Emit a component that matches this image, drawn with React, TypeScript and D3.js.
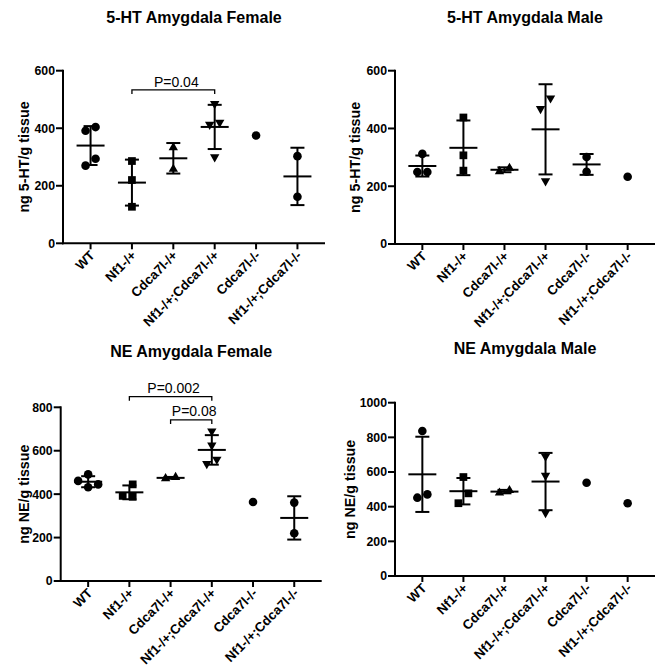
import React from "react";
import * as d3 from "d3";

const categories = ["WT", "Nf1-/+", "Cdca7l-/+", "Nf1-/+;Cdca7l-/+", "Cdca7l-/-", "Nf1-/+;Cdca7l-/-"];
const shapes = ["circle", "square", "triangleUp", "triangleDown", "circle", "circle"];

const ht5FemaleValues = [[404, 391, 294, 270], [286, 220, 127], [333, 258], [485, 420, 413, 300], [375], [303, 162]];
const ht5MaleValues = [[312, 249, 249], [438, 307, 254], [251, 263], [505, 468, 218], [301, 250], [233]];
const neFemaleValues = [[491, 461, 445, 432], [445, 392, 388], [472, 478], [690, 625, 540, 560], [364], [361, 220]];
const neMaleValues = [[837, 452, 471], [571, 477, 420], [480, 494], [690, 580, 365], [538], [420]];

const panelTitles = ["5-HT Amygdala Female", "5-HT Amygdala Male", "NE Amygdala Female", "NE Amygdala Male"];
const yLabels = ["ng 5-HT/g tissue", "ng 5-HT/g tissue", "ng NE/g tissue", "ng NE/g tissue"];
const yMaxes = [600, 600, 800, 1000];
const yTickValues = [[0, 200, 400, 600], [0, 200, 400, 600], [0, 200, 400, 600, 800], [0, 200, 400, 600, 800, 1000]];

// significance brackets: [fromIndex, toIndex, level (data units), label]
const ht5FemaleBrackets = [{ from: 1, to: 3, level: 533, label: "P=0.04" }];
const ht5MaleBrackets: any[] = [];
const neFemaleBrackets = [
  { from: 1, to: 3, level: 849, label: "P=0.002" },
  { from: 2, to: 3, level: 742, label: "P=0.08" },
];
const neMaleBrackets: any[] = [];

const FONT = "'Liberation Sans', Arial, Helvetica, sans-serif";

// layout (positions only)
const layouts = [
  { x0: 63, x1: 325, yTop: 70.7, yBot: 243.3, titleY: 22.7, ylabX: 29 },
  { x0: 395, x1: 655, yTop: 70.7, yBot: 244, titleY: 22.7, ylabX: 360 },
  { x0: 60.7, x1: 321.7, yTop: 407.3, yBot: 581, titleY: 357.3, ylabX: 29 },
  { x0: 395, x1: 655, yTop: 402.7, yBot: 576, titleY: 354, ylabX: 355 },
];

function symbolPath(shape: string) {
  if (shape === "circle") return d3.symbol().type(d3.symbolCircle).size(Math.PI * 4.3 * 4.3)();
  if (shape === "square") return d3.symbol().type(d3.symbolSquare).size(60)();
  return d3.symbol().type(d3.symbolTriangle).size(38)();
}

function dodge(ys: number[]) {
  const d = 10;
  const thr = 12;
  const order = ys.map((y, i) => i).sort((a, b) => ys[a] - ys[b]);
  const placed: { y: number; o: number }[] = [];
  const offs = new Array(ys.length).fill(0);
  const slots = [0, -d, d, -2 * d, 2 * d];
  for (const i of order) {
    for (const s of slots) {
      const clash = placed.some((p) => p.o === s && Math.abs(p.y - ys[i]) < thr);
      if (!clash) {
        offs[i] = s;
        placed.push({ y: ys[i], o: s });
        break;
      }
    }
  }
  // recentre clusters
  const clusters: number[][] = [];
  let cur: number[] = [];
  order.forEach((i, k) => {
    if (k > 0 && Math.abs(ys[i] - ys[order[k - 1]]) >= thr) {
      clusters.push(cur);
      cur = [];
    }
    cur.push(i);
  });
  if (cur.length) clusters.push(cur);
  clusters.forEach((c) => {
    const m = d3.mean(c, (i) => offs[i]) as number;
    c.forEach((i) => (offs[i] -= m));
  });
  return offs;
}

function Panel({ idx, values, brackets }: { idx: number; values: number[][]; brackets: any[] }) {
  const L = layouts[idx];
  const x = d3.scalePoint<string>().domain(categories).range([L.x0, L.x1]).padding(0.666);
  const y = d3.scaleLinear().domain([0, yMaxes[idx]]).range([L.yBot, L.yTop]);
  const cx = (L.x0 + L.x1) / 2;
  const sw = 2;
  return (
    <g>
      <text x={cx} y={L.titleY} textAnchor="middle" fontFamily={FONT} fontWeight="bold" fontSize={16} fill="#000">
        {panelTitles[idx]}
      </text>
      <text
        transform={`translate(${L.ylabX},${(L.yTop + L.yBot) / 2}) rotate(-90)`}
        textAnchor="middle"
        fontFamily={FONT}
        fontWeight="bold"
        fontSize={14.3}
        fill="#000"
      >
        {yLabels[idx]}
      </text>
      {/* y axis */}
      <line x1={L.x0} x2={L.x0} y1={L.yTop - 1} y2={L.yBot + 1} stroke="#000" strokeWidth={sw} />
      {yTickValues[idx].map((t) => (
        <g key={t}>
          <line x1={L.x0 - 7} x2={L.x0} y1={y(t)} y2={y(t)} stroke="#000" strokeWidth={sw} />
          <text x={L.x0 - 8} y={y(t)} dy="0.36em" textAnchor="end" fontFamily={FONT} fontWeight="bold" fontSize={12.3} fill="#000">
            {t}
          </text>
        </g>
      ))}
      {/* x axis */}
      <line x1={L.x0 - 1} x2={L.x1} y1={L.yBot} y2={L.yBot} stroke="#000" strokeWidth={sw} />
      {categories.map((c) => (
        <g key={c}>
          <line x1={x(c)} x2={x(c)} y1={L.yBot} y2={L.yBot + 6} stroke="#000" strokeWidth={sw} />
          <text
            transform={`translate(${(x(c) as number) + 5},${L.yBot + 13}) rotate(-45)`}
            textAnchor="end"
            fontFamily={FONT}
            fontWeight="bold"
            fontSize={13.2}
            fill="#000"
          >
            {c}
          </text>
        </g>
      ))}
      {/* groups */}
      {values.map((vals, gi) => {
        const xc = x(categories[gi]) as number;
        const ys = vals.map((v) => y(v));
        const offs = dodge(ys);
        const m = d3.mean(vals) as number;
        const sd = vals.length > 1 ? (d3.deviation(vals) as number) : 0;
        const shape = shapes[gi];
        const p = symbolPath(shape) as string;
        return (
          <g key={gi}>
            {vals.map((v, i) => (
              <path
                key={i}
                d={p}
                transform={`translate(${xc + offs[i]},${ys[i]})${shape === "triangleDown" ? " rotate(180)" : ""}`}
                fill="#000"
              />
            ))}
            {vals.length > 1 && (
              <g stroke="#000" strokeWidth={sw}>
                <line x1={xc - 14} x2={xc + 14} y1={y(m)} y2={y(m)} />
                <line x1={xc} x2={xc} y1={y(m + sd)} y2={y(m - sd)} />
                <line x1={xc - 7} x2={xc + 7} y1={y(m + sd)} y2={y(m + sd)} />
                <line x1={xc - 7} x2={xc + 7} y1={y(m - sd)} y2={y(m - sd)} />
              </g>
            )}
          </g>
        );
      })}
      {brackets.map((b, i) => {
        const xa = x(categories[b.from]) as number;
        const xb = x(categories[b.to]) as number;
        const yy = y(b.level);
        return (
          <g key={i}>
            <path d={`M${xa},${yy + 4}V${yy}H${xb}V${yy + 4}`} fill="none" stroke="#000" strokeWidth={1.3} />
            <text x={(xa + xb) / 2 + 3} y={yy - 3.4} textAnchor="middle" fontFamily={FONT} fontSize={14} fill="#000">
              {b.label}
            </text>
          </g>
        );
      })}
    </g>
  );
}

export default function App() {
  return (
    <svg
      width={665}
      height={666}
      viewBox="0 0 665 666"
      style={{ position: "absolute", left: 0, top: 0, background: "#fff" }}
    >
      <rect width={665} height={666} fill="#fff" />
      <Panel idx={0} values={ht5FemaleValues} brackets={ht5FemaleBrackets} />
      <Panel idx={1} values={ht5MaleValues} brackets={ht5MaleBrackets} />
      <Panel idx={2} values={neFemaleValues} brackets={neFemaleBrackets} />
      <Panel idx={3} values={neMaleValues} brackets={neMaleBrackets} />
    </svg>
  );
}
